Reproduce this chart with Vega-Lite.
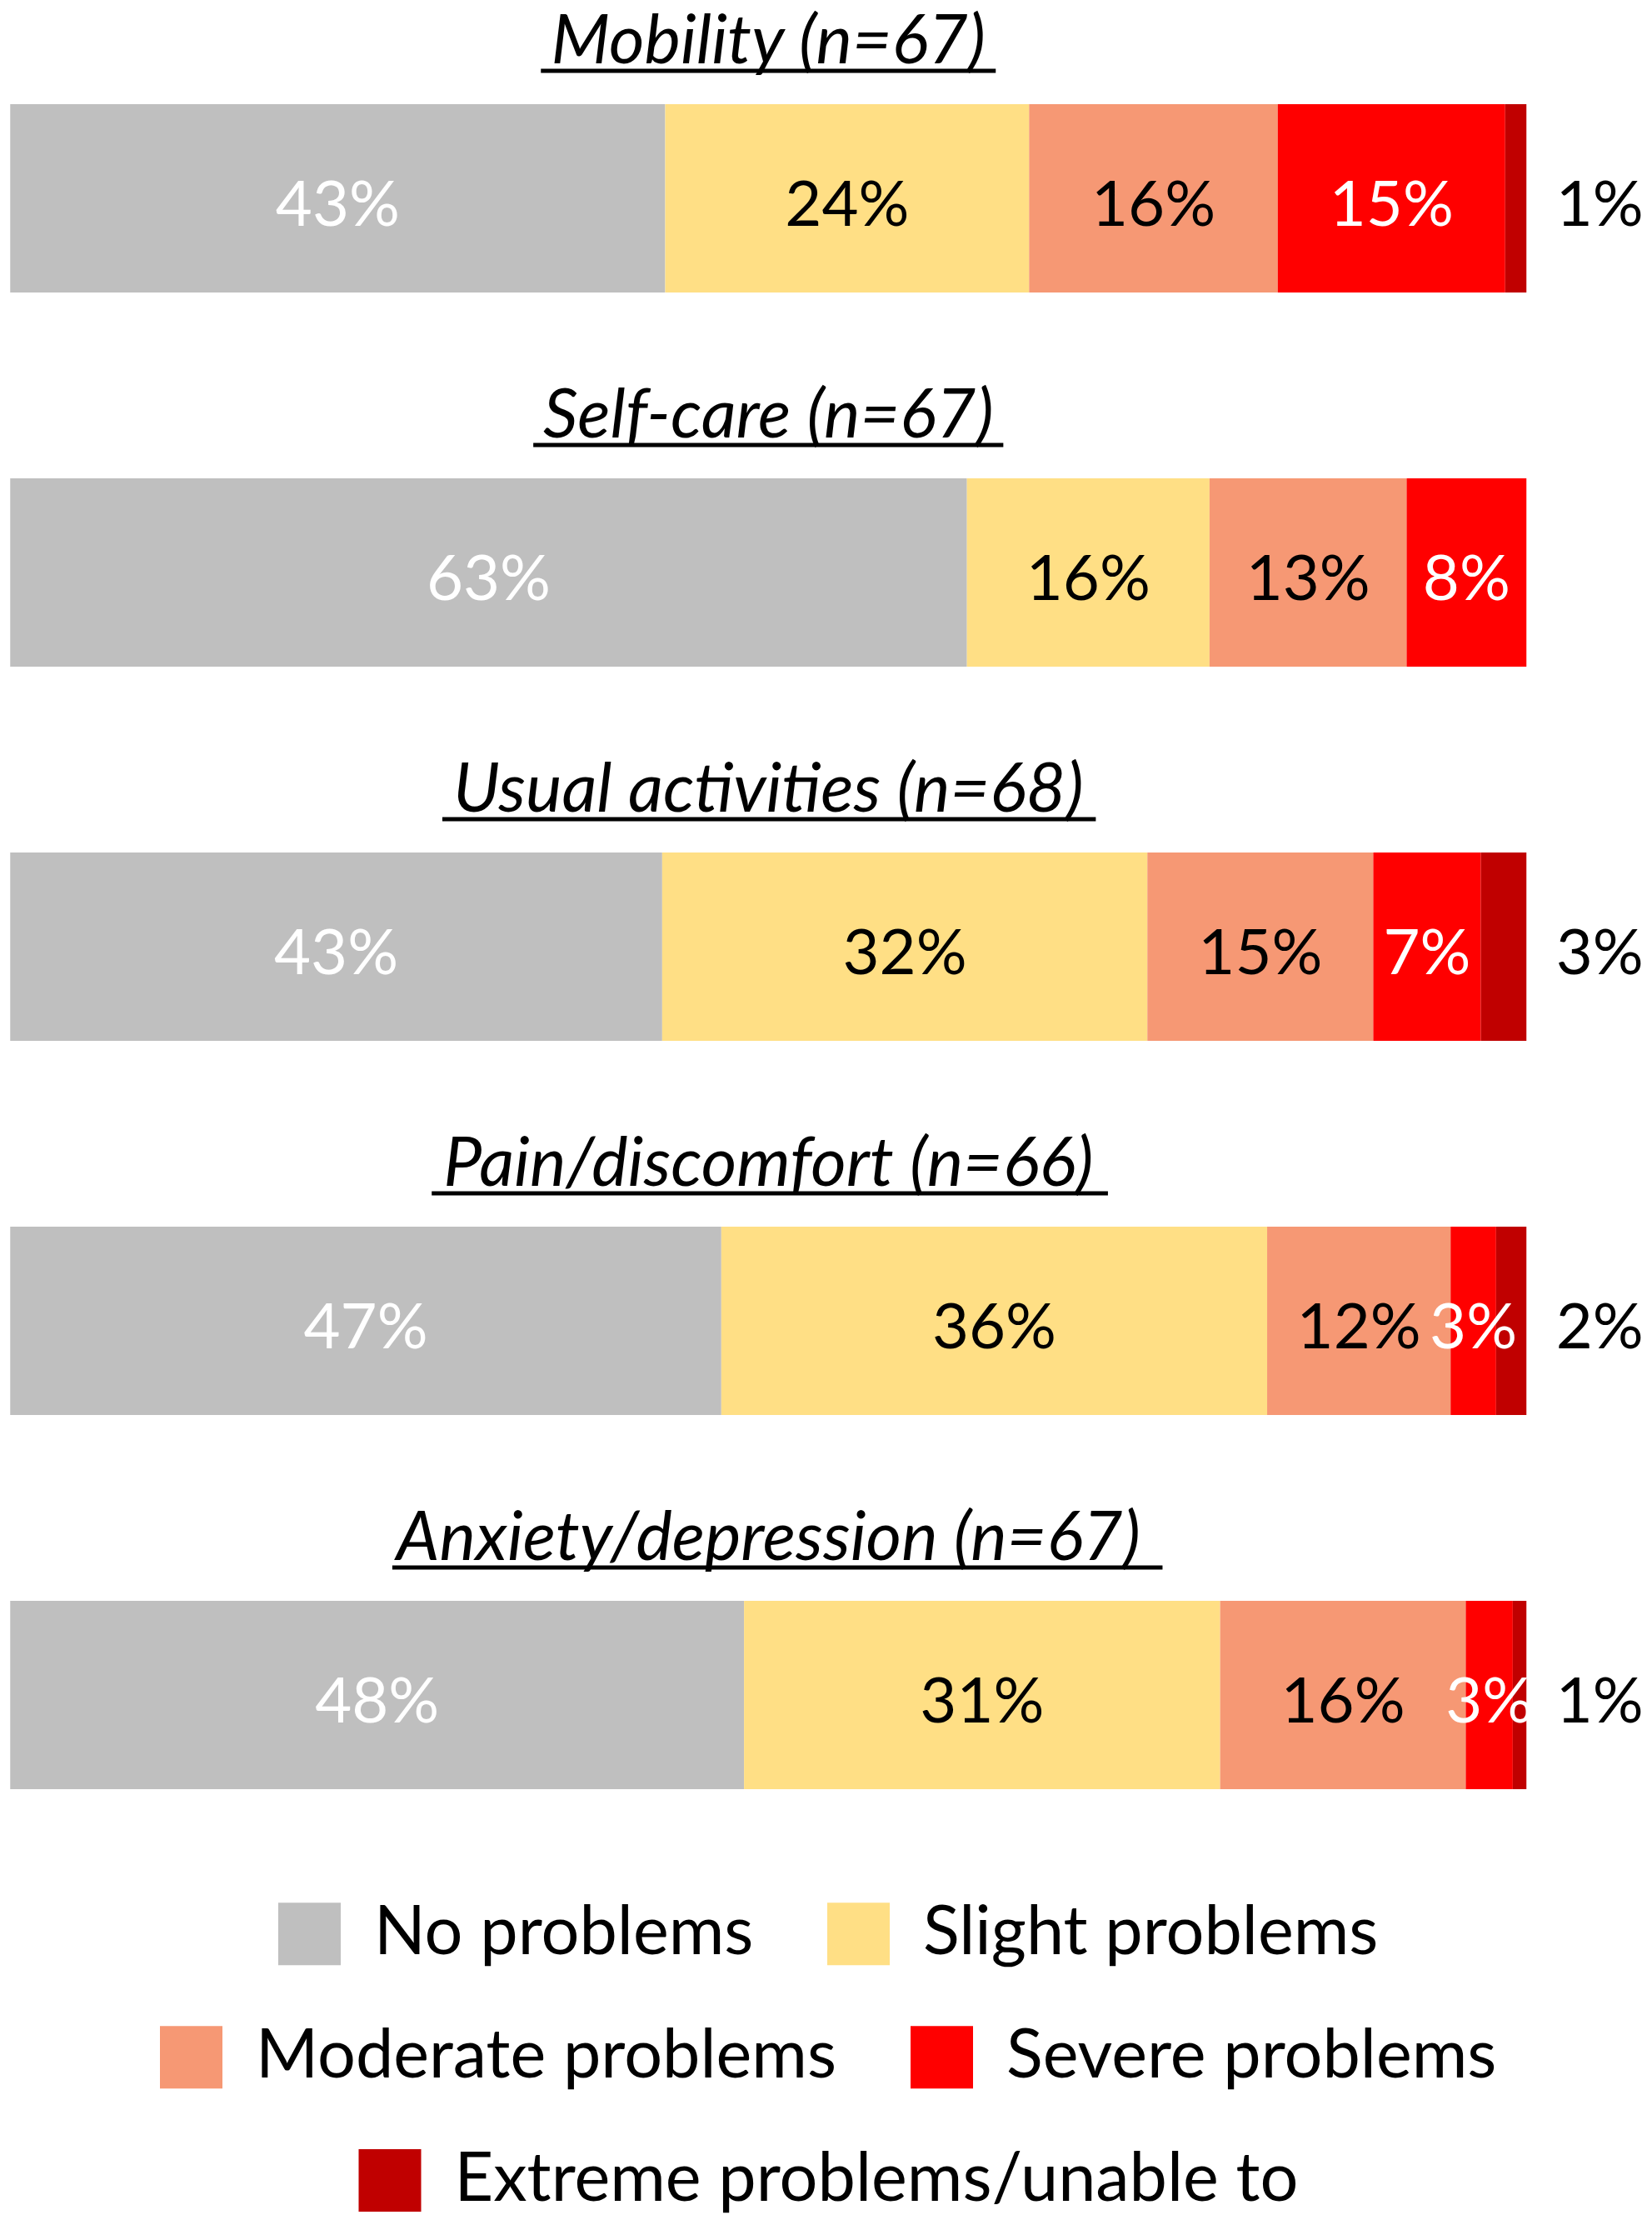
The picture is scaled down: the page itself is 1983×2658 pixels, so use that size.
{
  "$schema": "https://vega.github.io/schema/vega-lite/v6.json",
  "background": "white",
  "padding": {"left": 12, "top": 8, "right": 0, "bottom": 0},
  "datasets": {
    "eq5d": [
      {"dimension": "Mobility", "category": "No problems", "level": 1, "share": 0.432},
      {"dimension": "Mobility", "category": "Slight problems", "level": 2, "share": 0.240},
      {"dimension": "Mobility", "category": "Moderate problems", "level": 3, "share": 0.164},
      {"dimension": "Mobility", "category": "Severe problems", "level": 4, "share": 0.150},
      {"dimension": "Mobility", "category": "Extreme problems/unable to", "level": 5, "share": 0.014},
      {"dimension": "Self-care", "category": "No problems", "level": 1, "share": 0.631},
      {"dimension": "Self-care", "category": "Slight problems", "level": 2, "share": 0.160},
      {"dimension": "Self-care", "category": "Moderate problems", "level": 3, "share": 0.130},
      {"dimension": "Self-care", "category": "Severe problems", "level": 4, "share": 0.079},
      {"dimension": "Self-care", "category": "Extreme problems/unable to", "level": 5, "share": 0},
      {"dimension": "Usual activities", "category": "No problems", "level": 1, "share": 0.430},
      {"dimension": "Usual activities", "category": "Slight problems", "level": 2, "share": 0.320},
      {"dimension": "Usual activities", "category": "Moderate problems", "level": 3, "share": 0.149},
      {"dimension": "Usual activities", "category": "Severe problems", "level": 4, "share": 0.071},
      {"dimension": "Usual activities", "category": "Extreme problems/unable to", "level": 5, "share": 0.030},
      {"dimension": "Pain/discomfort", "category": "No problems", "level": 1, "share": 0.469},
      {"dimension": "Pain/discomfort", "category": "Slight problems", "level": 2, "share": 0.360},
      {"dimension": "Pain/discomfort", "category": "Moderate problems", "level": 3, "share": 0.121},
      {"dimension": "Pain/discomfort", "category": "Severe problems", "level": 4, "share": 0.030},
      {"dimension": "Pain/discomfort", "category": "Extreme problems/unable to", "level": 5, "share": 0.020},
      {"dimension": "Anxiety/depression", "category": "No problems", "level": 1, "share": 0.484},
      {"dimension": "Anxiety/depression", "category": "Slight problems", "level": 2, "share": 0.314},
      {"dimension": "Anxiety/depression", "category": "Moderate problems", "level": 3, "share": 0.162},
      {"dimension": "Anxiety/depression", "category": "Severe problems", "level": 4, "share": 0.031},
      {"dimension": "Anxiety/depression", "category": "Extreme problems/unable to", "level": 5, "share": 0.009}
    ],
    "titles": [
      {"dimension": "Mobility", "title": "Mobility (n=67)"},
      {"dimension": "Self-care", "title": "Self-care (n=67)"},
      {"dimension": "Usual activities", "title": "Usual activities (n=68)"},
      {"dimension": "Pain/discomfort", "title": "Pain/discomfort (n=66)"},
      {"dimension": "Anxiety/depression", "title": "Anxiety/depression (n=67)"}
    ]
  },
  "vconcat": [
    {
      "width": 1820,
      "height": {"step": 449},
      "encoding": {
        "y": {
          "field": "dimension",
          "type": "nominal",
          "sort": ["Mobility", "Self-care", "Usual activities", "Pain/discomfort", "Anxiety/depression"],
          "axis": null,
          "scale": {"paddingInner": 0.4967, "paddingOuter": 0.2038, "align": 0.639}
        }
      },
      "layer": [
        {
          "data": {"name": "eq5d"},
          "mark": {"type": "bar"},
          "encoding": {
            "x": {
              "field": "share",
              "type": "quantitative",
              "stack": "zero",
              "scale": {"domain": [0, 1], "nice": false},
              "axis": null
            },
            "color": {
              "field": "category",
              "type": "nominal",
              "scale": {
                "domain": ["No problems", "Slight problems", "Moderate problems", "Severe problems", "Extreme problems/unable to"],
                "range": ["#BFBFBF", "#FFDF85", "#F69874", "#FF0000", "#C00000"]
              },
              "legend": null
            },
            "order": {"field": "level", "type": "quantitative"}
          }
        },
        {
          "data": {"name": "eq5d"},
          "transform": [{"filter": "datum.level < 5"}],
          "mark": {"type": "text", "fontSize": 76, "baseline": "alphabetic", "dy": 33},
          "encoding": {
            "x": {"field": "share", "type": "quantitative", "stack": "zero", "bandPosition": 0.5},
            "detail": {"field": "category", "type": "nominal"},
            "order": {"field": "level", "type": "quantitative"},
            "text": {"field": "share", "type": "quantitative", "format": ".0%"},
            "color": {
              "condition": {"test": "datum.level == 1 || datum.level == 4", "value": "white"},
              "value": "black"
            }
          }
        },
        {
          "data": {"name": "eq5d"},
          "transform": [{"filter": "datum.level == 5 && datum.share > 0"}],
          "mark": {"type": "text", "fontSize": 76, "baseline": "alphabetic", "dy": 33, "dx": 88, "color": "black"},
          "encoding": {
            "x": {"datum": 1, "type": "quantitative"},
            "text": {"field": "share", "type": "quantitative", "format": ".0%"}
          }
        },
        {
          "data": {"name": "titles"},
          "mark": {"type": "text", "fontSize": 82, "fontStyle": "italic", "baseline": "alphabetic", "dy": -162, "color": "black"},
          "encoding": {
            "x": {"datum": 0.5, "type": "quantitative"},
            "text": {"field": "title"}
          }
        },
        {
          "data": {"name": "titles"},
          "transform": [{"filter": {"field": "dimension", "equal": "Mobility"}}],
          "mark": {"type": "rule", "strokeWidth": 5, "yOffset": -153, "color": "black"},
          "encoding": {"x": {"datum": 0.350, "type": "quantitative"}, "x2": {"datum": 0.650}}
        },
        {
          "data": {"name": "titles"},
          "transform": [{"filter": {"field": "dimension", "equal": "Self-care"}}],
          "mark": {"type": "rule", "strokeWidth": 5, "yOffset": -153, "color": "black"},
          "encoding": {"x": {"datum": 0.345, "type": "quantitative"}, "x2": {"datum": 0.655}}
        },
        {
          "data": {"name": "titles"},
          "transform": [{"filter": {"field": "dimension", "equal": "Usual activities"}}],
          "mark": {"type": "rule", "strokeWidth": 5, "yOffset": -153, "color": "black"},
          "encoding": {"x": {"datum": 0.285, "type": "quantitative"}, "x2": {"datum": 0.716}}
        },
        {
          "data": {"name": "titles"},
          "transform": [{"filter": {"field": "dimension", "equal": "Pain/discomfort"}}],
          "mark": {"type": "rule", "strokeWidth": 5, "yOffset": -153, "color": "black"},
          "encoding": {"x": {"datum": 0.278, "type": "quantitative"}, "x2": {"datum": 0.724}}
        },
        {
          "data": {"name": "titles"},
          "transform": [{"filter": {"field": "dimension", "equal": "Anxiety/depression"}}],
          "mark": {"type": "rule", "strokeWidth": 5, "yOffset": -153, "color": "black"},
          "encoding": {"x": {"datum": 0.252, "type": "quantitative"}, "x2": {"datum": 0.760}}
        }
      ]
    },
    {
      "width": 1,
      "height": 1,
      "data": {"name": "eq5d"},
      "transform": [{"filter": {"field": "category", "oneOf": ["No problems", "Slight problems"]}}],
      "mark": {"type": "square", "size": 0},
      "encoding": {
        "color": {
          "field": "category",
          "type": "nominal",
          "scale": {"domain": ["No problems", "Slight problems"], "range": ["#BFBFBF", "#FFDF85"]},
          "legend": {"columns": 2}
        }
      }
    },
    {
      "width": 1,
      "height": 1,
      "data": {"name": "eq5d"},
      "transform": [{"filter": {"field": "category", "oneOf": ["Moderate problems", "Severe problems"]}}],
      "mark": {"type": "square", "size": 0},
      "encoding": {
        "color": {
          "field": "category",
          "type": "nominal",
          "scale": {"domain": ["Moderate problems", "Severe problems"], "range": ["#F69874", "#FF0000"]},
          "legend": {"columns": 2}
        }
      }
    },
    {
      "width": 1,
      "height": 1,
      "data": {"name": "eq5d"},
      "transform": [{"filter": {"field": "category", "equal": "Extreme problems/unable to"}}],
      "mark": {"type": "square", "size": 0},
      "encoding": {
        "color": {
          "field": "category",
          "type": "nominal",
          "scale": {"domain": ["Extreme problems/unable to"], "range": ["#C00000"]},
          "legend": {"columns": 1}
        }
      }
    }
  ],
  "spacing": 67,
  "center": true,
  "resolve": {"scale": {"color": "independent"}, "legend": {"color": "independent"}},
  "config": {
    "font": "Lato",
    "view": {"stroke": null},
    "legend": {
      "orient": "right",
      "offset": 0,
      "direction": "horizontal",
      "title": null,
      "symbolType": "square",
      "symbolSize": 5625,
      "symbolOpacity": 1,
      "symbolStrokeWidth": 0,
      "labelFont": "Lato",
      "labelFontSize": 81,
      "labelColor": "black",
      "labelOffset": 37,
      "labelLimit": 2000,
      "columnPadding": 85,
      "padding": 0
    }
  }
}
